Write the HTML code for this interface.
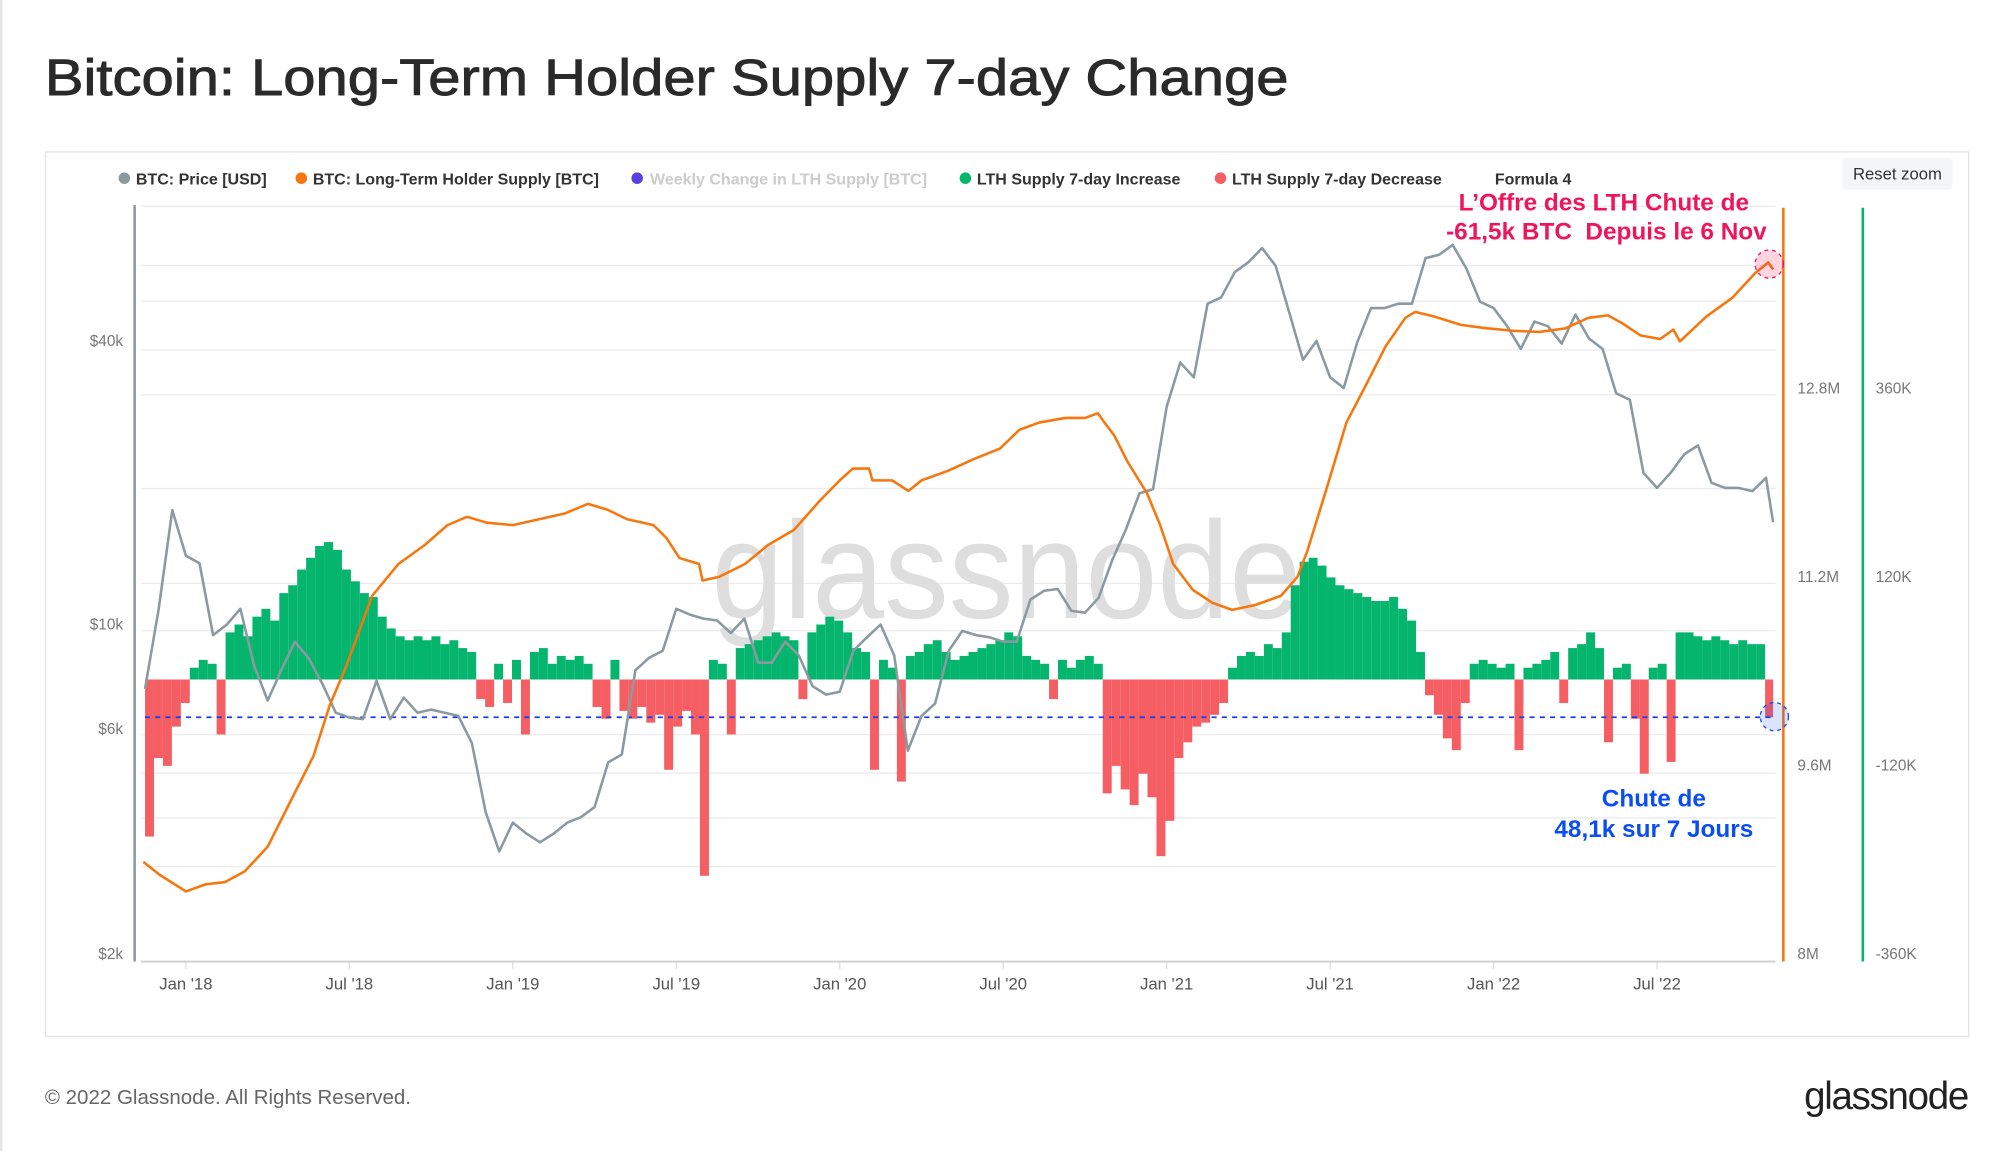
<!DOCTYPE html>
<html><head><meta charset="utf-8"><style>
html,body{margin:0;padding:0;background:#fff;}
svg{display:block;font-family:"Liberation Sans",sans-serif;}
</style></head><body>
<svg id="chart" width="2000" height="1152" viewBox="0 0 1560 898.56" xmlns="http://www.w3.org/2000/svg">
<rect x="0" y="0" width="1560" height="898.56" fill="#fff"/>
<line x1="1" y1="0" x2="1" y2="898" stroke="#e6e6e6" stroke-width="2"/>
<text x="35" y="74" font-size="40" fill="#2a2a2a" stroke="#2a2a2a" stroke-width="0.7" textLength="970" lengthAdjust="spacingAndGlyphs">Bitcoin: Long-Term Holder Supply 7-day Change</text>
<rect x="35.5" y="118.5" width="1500" height="690" fill="#fff" stroke="#e3e3e3"/>
<g font-size="12.5" font-weight="bold" fill="#333">
 <g><circle cx="97" cy="139" r="4.5" fill="#8a9aa0"/><text x="106" y="144">BTC: Price [USD]</text></g>
 <g><circle cx="235" cy="139" r="4.5" fill="#f7770f"/><text x="244" y="144">BTC: Long-Term Holder Supply [BTC]</text></g>
 <g><circle cx="497" cy="139" r="4.5" fill="#5b3fe0"/><text x="507" y="144" fill="#cccccc">Weekly Change in LTH Supply [BTC]</text></g>
 <g><circle cx="753" cy="139" r="4.5" fill="#05b56d"/><text x="762" y="144">LTH Supply 7-day Increase</text></g>
 <g><circle cx="952" cy="139" r="4.5" fill="#f55f63"/><text x="961" y="144">LTH Supply 7-day Decrease</text></g>
 <g><text x="1166" y="144">Formula 4</text></g>
</g>
<g><rect x="1437" y="123" width="86" height="25" rx="3" fill="#f4f5f7"/><text x="1480" y="140" font-size="13" fill="#333" text-anchor="middle">Reset zoom</text></g>
<g id="grid"></g>
<text x="785" y="482" font-size="108" fill="#dedede" text-anchor="middle" textLength="460" lengthAdjust="spacingAndGlyphs">glassnode</text>
<g id="bars"></g>
<g id="lines"></g>
<g id="axes"></g>
<g font-weight="bold" font-size="19">
 <text x="1251" y="164" fill="#f0145a" text-anchor="middle">L’Offre des LTH Chute de</text>
 <text x="1253" y="187" fill="#f0145a" text-anchor="middle" xml:space="preserve">-61,5k BTC  Depuis le 6 Nov</text>
 <circle cx="1380" cy="206" r="11" fill="rgba(240,20,90,0.18)" stroke="#f0145a" stroke-dasharray="3,3"/>
 <text x="1290" y="629" fill="#0a4cf5" text-anchor="middle">Chute de</text>
 <text x="1290" y="653" fill="#0a4cf5" text-anchor="middle">48,1k sur 7 Jours</text>
 <circle cx="1384" cy="559" r="11" fill="rgba(10,76,245,0.15)" stroke="#0a4cf5" stroke-dasharray="3,3"/>
</g>
<text x="35" y="861" font-size="16" fill="#666">© 2022 Glassnode. All Rights Reserved.</text>
<text x="1535" y="865" font-size="30" fill="#222" text-anchor="end" letter-spacing="-1">glassnode</text>
</svg>
<script>
const priceStart = 2017.875;
const priceStepYears = 1/24;
const priceValues = [7300,10800,17500,
14000,13500,9500,10000,10800,8200,6900,8000,9200,8500,7500,6500,6350,6300,7600,6300,7000,6500,6600,6500,6400,5600,4000,3300,
3800,3600,3450,3600,3800,3900,4100,5100,5300,8000,8500,8800,10800,10500,10300,10200,9600,10300,8300,8300,9200,8600,7400,7100,
7200,8800,9400,10000,8600,5400,6400,6800,8800,9700,9500,9400,9200,9200,11300,11800,11900,10700,10600,11400,13700,15900,19000,19400,
29000,36000,33500,48000,49500,56000,58800,63000,57800,46000,36500,40000,33500,31800,39800,47000,47000,48000,48000,60000,61000,64000,57000,48500,
47000,43000,38500,44000,43000,39500,45500,40500,38500,31000,30000,21000,19500,21000,23000,24000,20000,19500,19500,19200,20500,16500];
const dataEnd = 2022.855;

const supplyYears = [2017.87,2017.92,2018.00,2018.06,2018.12,2018.18,2018.25,2018.33,2018.39,2018.44,2018.49,2018.57,2018.65,2018.73,2018.80,2018.86,2018.92,2019.00,2019.08,2019.16,2019.23,2019.29,2019.35,2019.43,2019.47,2019.51,2019.57,2019.58,2019.63,2019.71,2019.78,2019.86,2019.94,2020.00,2020.04,2020.09,2020.10,2020.16,2020.21,2020.25,2020.33,2020.41,2020.49,2020.55,2020.61,2020.69,2020.75,2020.79,2020.81,2020.84,2020.88,2020.94,2020.98,2021.02,2021.08,2021.14,2021.20,2021.27,2021.35,2021.40,2021.43,2021.49,2021.55,2021.61,2021.67,2021.73,2021.76,2021.82,2021.90,2021.98,2022.06,2022.14,2022.22,2022.29,2022.35,2022.39,2022.45,2022.51,2022.55,2022.57,2022.65,2022.73,2022.80,2022.84,2022.855];
const supplyMillions = [8.78,8.67,8.53,8.59,8.61,8.70,8.91,9.35,9.68,10.11,10.44,11.04,11.31,11.47,11.64,11.71,11.66,11.64,11.69,11.74,11.82,11.77,11.69,11.64,11.53,11.36,11.31,11.17,11.20,11.31,11.47,11.60,11.85,12.02,12.12,12.12,12.02,12.02,11.93,12.02,12.10,12.20,12.29,12.45,12.51,12.55,12.55,12.59,12.51,12.40,12.18,11.91,11.64,11.31,11.09,10.98,10.92,10.96,11.04,11.20,11.42,11.96,12.51,12.83,13.16,13.40,13.45,13.41,13.34,13.31,13.29,13.28,13.31,13.40,13.42,13.36,13.25,13.22,13.30,13.20,13.41,13.57,13.78,13.87,13.81];

const barStart = 2017.875;
const barStepDays = 10;
const barChangeK = [-200,-100,-110,-60,-30,15,25,20,-70,60,70,55,80,90,75,110,120,140,155,170,175,165,140,125,110,105,80,65,55,50,55,50,55,45,50,40,35,-25,-35,20,-30,25,-70,35,40,20,30,25,30,20,-35,-50,25,-40,-50,-35,-55,-45,-115,-60,-40,-70,-250,25,20,-70,40,45,50,55,60,55,50,-25,60,70,80,75,60,40,35,-115,25,15,-130,30,35,45,50,35,25,30,35,40,45,50,60,55,30,25,20,-25,25,15,25,30,20,-145,-110,-140,-160,-120,-150,-225,-180,-100,-80,-60,-55,-45,-30,15,30,35,30,45,40,60,120,150,155,145,130,120,115,110,105,100,100,105,90,75,35,-20,-45,-75,-90,-30,20,25,20,15,20,-90,15,20,25,35,-30,40,45,60,40,-80,15,20,-50,-120,15,20,-105,60,60,55,50,55,50,45,50,45,45,-48.1];
const dropThresholdK = -48.1;

const priceTicks = [2000,6000,10000,40000];
const priceTickLabels = ["$2k","$6k","$10k","$40k"];
const supplyTicks = [8,9.6,11.2,12.8];
const supplyTickLabels = ["8M","9.6M","11.2M","12.8M"];
const changeTicks = [-360,-120,120,360];
const changeTickLabels = ["-360K","-120K","120K","360K"];
const xTickYears = [2018,2018.5,2019,2019.5,2020,2020.5,2021,2021.5,2022,2022.5];
const xTickLabels = ["Jan '18","Jul '18","Jan '19","Jul '19","Jan '20","Jul '20","Jan '21","Jul '21","Jan '22","Jul '22"];

const NS = "http://www.w3.org/2000/svg";
const xOf = y => 145 + (y - 2018) * 255;
const yPrice = v => 266 + (Math.log10(40000) - Math.log10(v)) * 367.4;
const ySupply = v => 744 - (v - 8) / 1.6 * 147;
const yChange = v => 530 - v * (147 / 240);
function mk(tag, attrs, parent){const e=document.createElementNS(NS,tag);for(const k in attrs)e.setAttribute(k,attrs[k]);parent.appendChild(e);return e;}

const grid = document.getElementById('grid');
const gridYs = [161,207,235,273,308,381,455,492,573,603,638,676];
gridYs.forEach(gy=>{const l=mk('line',{x1:110,x2:1385,y1:gy,y2:gy,stroke:'#ececec','stroke-width':1},grid);

});
xTickYears.forEach(t=>{const l=mk('line',{x1:xOf(t),x2:xOf(t),y1:750,y2:756,stroke:'#ddd'},grid);

});

const bars = document.getElementById('bars');
const bw = barStepDays/365.25*255;
barChangeK.forEach((v,i)=>{
  const t0 = barStart + i*barStepDays/365.25;
  const x0 = xOf(t0);
  const x1 = Math.min(x0+bw, xOf(dataEnd));
  const y0 = yChange(Math.max(v,0)), y1 = yChange(Math.min(v,0));
  const r = mk('rect',{x:x0,y:y0,width:Math.max(x1-x0,1.5),height:Math.max(y1-y0,0.5),fill:v>=0?'#05b56d':'#f55f63'},bars);
  
  
});
const dl = mk('line',{x1:113,x2:1385,y1:yChange(dropThresholdK),y2:yChange(dropThresholdK),stroke:'#1a3ee8','stroke-width':1.3,'stroke-dasharray':'4,4'},bars);



const lines = document.getElementById('lines');
let pd = priceValues.map((v,i)=>{const t=Math.min(priceStart+i*priceStepYears,dataEnd);return (i?'L':'M')+xOf(t).toFixed(1)+','+yPrice(v).toFixed(1);}).join(' ');
const pl = mk('path',{d:pd,fill:'none',stroke:'#8a9aa0','stroke-width':2,'stroke-linejoin':'round'},lines);


let sd = supplyMillions.map((v,i)=>(i?'L':'M')+xOf(supplyYears[i]).toFixed(1)+','+ySupply(v).toFixed(1)).join(' ');
const sl = mk('path',{d:sd,fill:'none',stroke:'#f7770f','stroke-width':2,'stroke-linejoin':'round'},lines);



const axes = document.getElementById('axes');
function ax(x1,y1,x2,y2,c,w,name){const l=mk('line',{x1,y1,x2,y2,stroke:c,'stroke-width':w},axes);

}
ax(105,160,105,750,'#8a9aa0',2,'price-axis-line');
ax(110,750,1385,750,'#cfcfcf',1.5,'x-axis-line');
ax(1391,162,1391,750,'#f7770f',2,'supply-axis-line');
ax(1453,162,1453,750,'#05b56d',2,'change-axis-line');
function lbl(x,y,s,anchor,name){const e=mk('text',{x,y,'font-size':12,fill:'#777','text-anchor':anchor},axes);e.textContent=s;

}
priceTicks.forEach((v,i)=>lbl(96,yPrice(v)+4,priceTickLabels[i],'end','price-tick-label'));
supplyTicks.forEach((v,i)=>lbl(1402,ySupply(v)+4,supplyTickLabels[i],'start','supply-tick-label'));
changeTicks.forEach((v,i)=>lbl(1463,530-v*(147/240)-6.5+4,changeTickLabels[i],'start','change-tick-label'));
xTickYears.forEach((t,i)=>{const e=mk('text',{x:xOf(t),y:772,'font-size':13,fill:'#555','text-anchor':'middle'},axes);e.textContent=xTickLabels[i];

});
</script>
</body></html>
